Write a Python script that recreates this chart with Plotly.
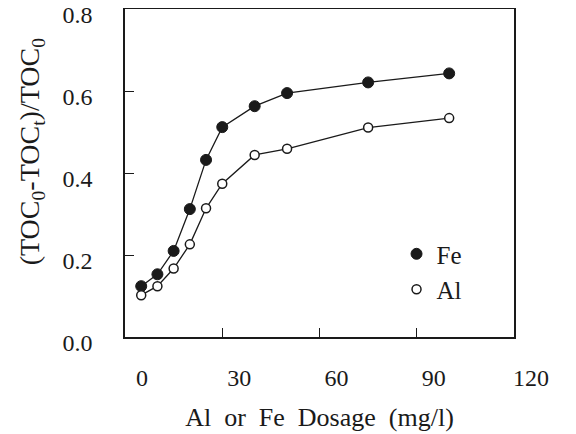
import plotly.graph_objects as go

dosage = [5, 10, 15, 20, 25, 30, 40, 50, 75, 100]
fe_removal = [0.124, 0.153, 0.210, 0.312, 0.432, 0.512, 0.563, 0.595, 0.621, 0.643]
al_removal = [0.102, 0.124, 0.167, 0.226, 0.314, 0.374, 0.444, 0.459, 0.511, 0.534]

x_ticks = [0, 30, 60, 90, 120]
x_ticktext = ["0", "30", "60", "90", "120"]
y_ticks = [0.0, 0.2, 0.4, 0.6, 0.8]
y_ticktext = ["0.0", "0.2", "0.4", "0.6", "0.8"]

FONT = "Liberation Serif"
INK = "#1a1a1a"

fig = go.Figure()
series = [
    ("Fe", fe_removal, dict(symbol="circle", size=11, color=INK, line=dict(color=INK, width=1))),
    ("Al", al_removal, dict(symbol="circle", size=9, color="white", line=dict(color=INK, width=1.5))),
]
for name, vals, mk in series:
    fig.add_trace(go.Scatter(
        x=dosage, y=vals, mode="lines", showlegend=False, legendgroup=name,
        line=dict(color=INK, width=1.3), hoverinfo="skip",
    ))
for name, vals, mk in series:
    fig.add_trace(go.Scatter(
        x=dosage, y=vals, name=name, mode="markers", legendgroup=name, marker=mk,
    ))

fig.update_layout(
    width=576, height=434,
    margin=dict(l=117, r=70, t=1, b=105),
    paper_bgcolor="white", plot_bgcolor="white",
    font=dict(family=FONT, color=INK, size=24),
    showlegend=True,
    legend=dict(
        x=0.698, y=0.323, xanchor="left", yanchor="top",
        font=dict(family=FONT, size=25, color=INK),
        bgcolor="rgba(0,0,0,0)", itemwidth=30, tracegroupgap=0,
    ),
    xaxis=dict(
        range=[0, 120], tickvals=x_ticks, ticktext=x_ticktext, automargin=False,
        ticks="inside", ticklen=9, tickwidth=1.3, tickcolor=INK,
        showline=True, linecolor=INK, linewidth=1.5, mirror=True,
        showgrid=False, zeroline=False,
        ticklabelstandoff=18, ticklabelshift=17, ticklabeloverflow="allow",
        tickfont=dict(family=FONT, size=24, color=INK),
        title=dict(text="Al  or  Fe  Dosage  (mg/l)".replace("  ", "\u00a0\u00a0"),
                   font=dict(family=FONT, size=26, color=INK), standoff=18),
    ),
    yaxis=dict(
        range=[0, 0.8001], tickvals=y_ticks, ticktext=y_ticktext, automargin=False,
        ticks="inside", ticklen=9, tickwidth=1.3, tickcolor=INK,
        showline=True, linecolor=INK, linewidth=1.5, mirror=True,
        showgrid=False, zeroline=False,
        ticklabelstandoff=26, ticklabelshift=6, ticklabeloverflow="allow",
        tickfont=dict(family=FONT, size=24, color=INK),
    ),
    annotations=[dict(
        text="(TOC<sub>0</sub>-TOC<sub>t</sub>)/TOC<sub>0</sub>",
        xref="paper", yref="paper", x=-0.24, y=0.565,
        xanchor="center", yanchor="middle", textangle=-90, showarrow=False,
        font=dict(family=FONT, size=28, color=INK),
    )],
)

fig.write_html("out.html")
